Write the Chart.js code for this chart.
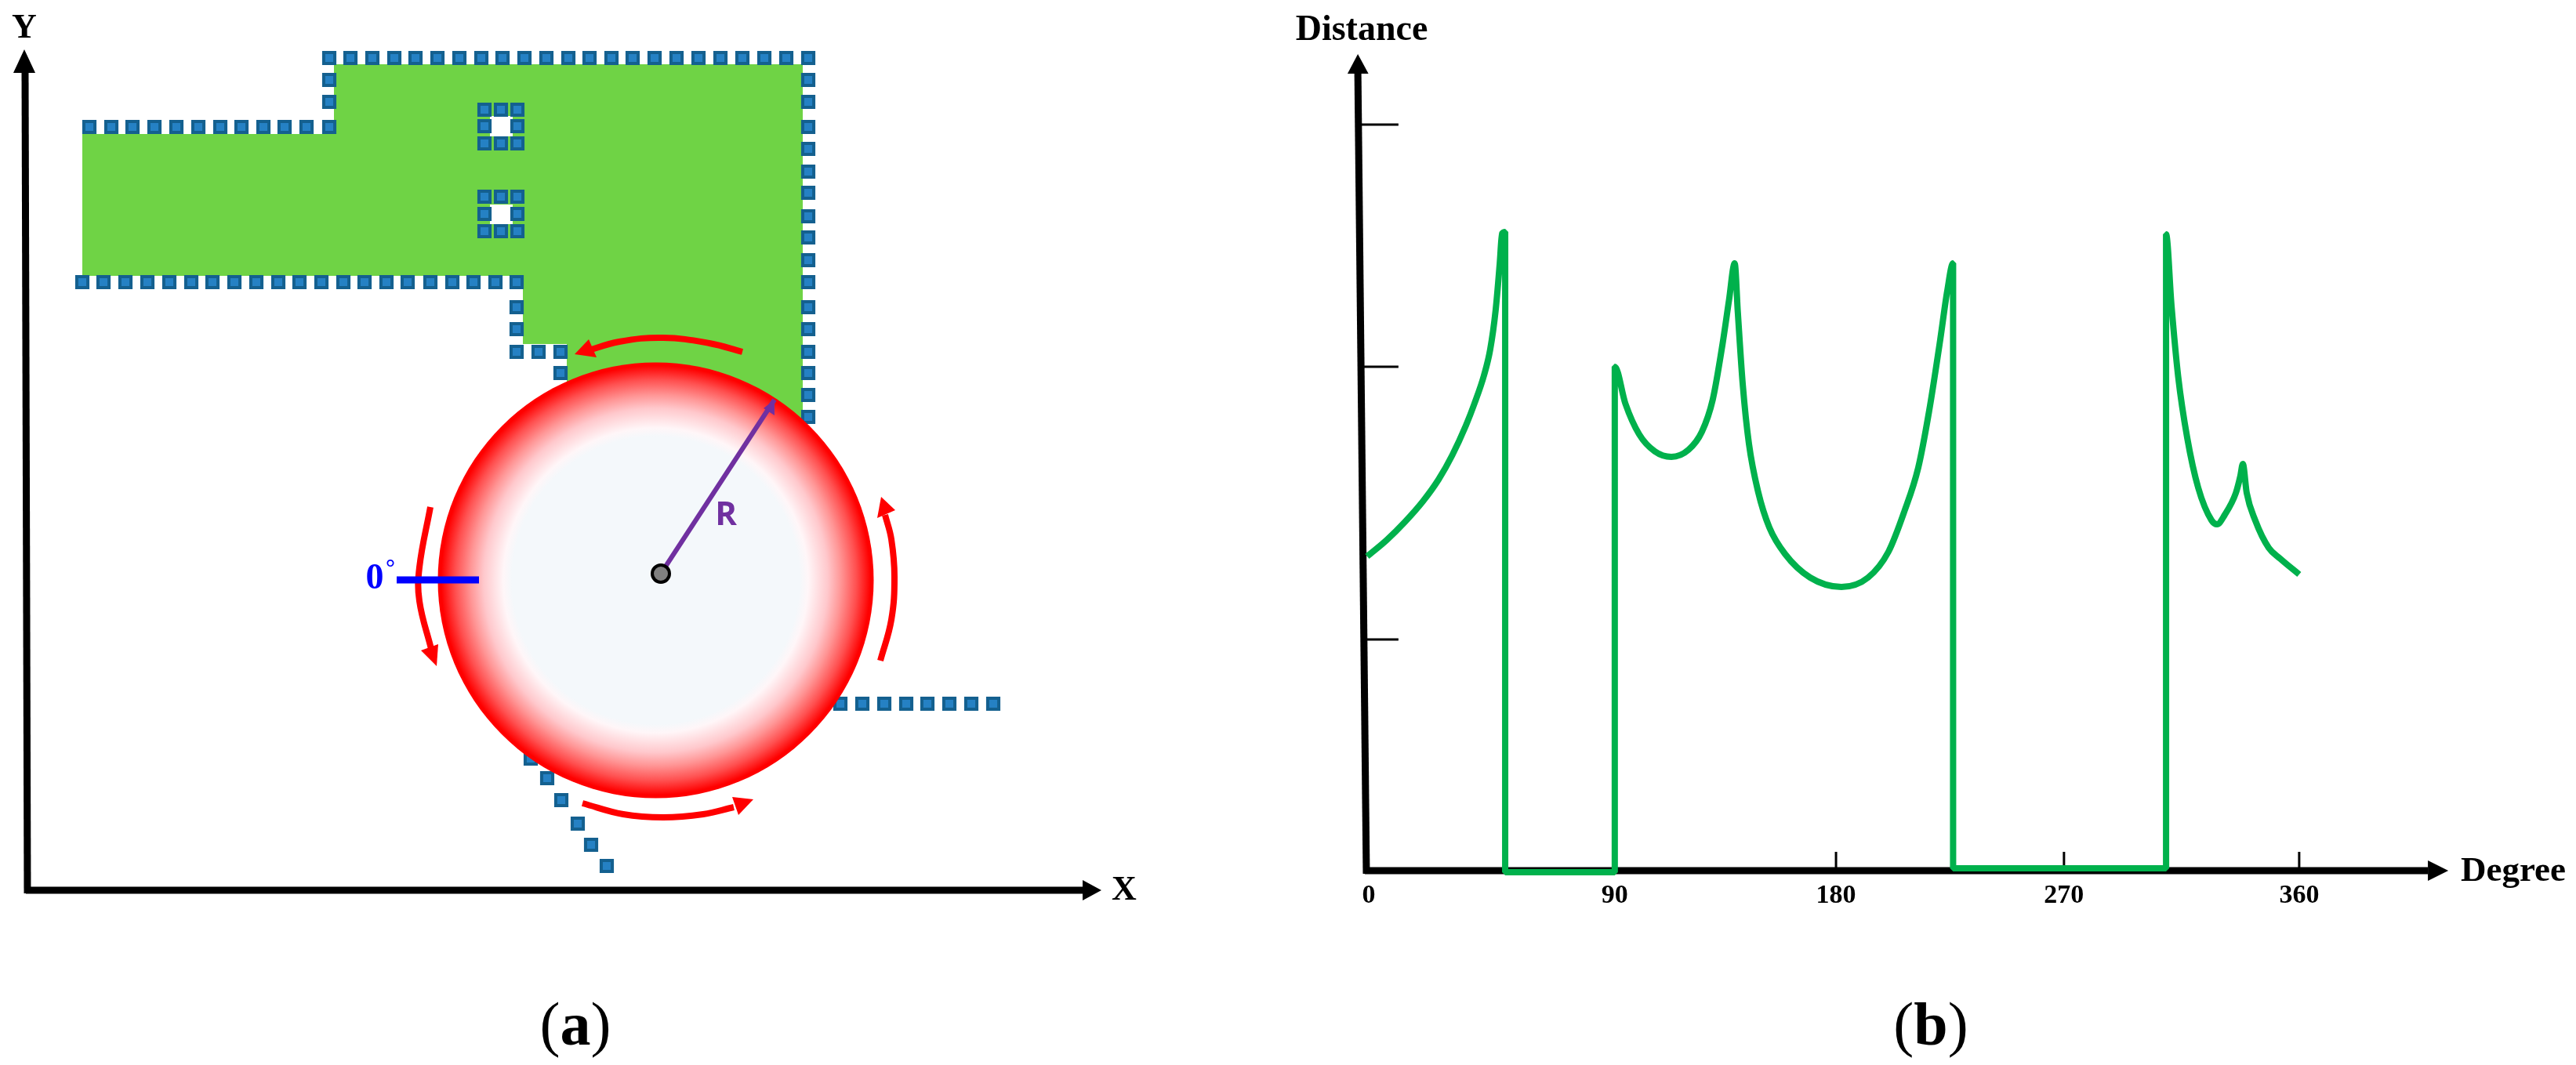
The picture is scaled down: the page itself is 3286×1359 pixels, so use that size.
<!DOCTYPE html>
<html>
<head>
<meta charset="utf-8">
<script src="https://cdn.jsdelivr.net/npm/chart.js@4"></script>
<style>
  html, body { margin: 0; padding: 0; background: #fff; }
  body { position: relative; width: 3286px; height: 1359px; overflow: hidden; }
  canvas { position: absolute; top: 0; }
  #chartA { left: 0; }
  #chartB { left: 1650px; }
  .lbl { position: absolute; transform: translate(-50%, -50%); font-family: "Liberation Serif", serif; font-weight: bold; color: #000; white-space: nowrap; line-height: 1; }
  .lbl .thin { font-weight: normal; }
</style>
</head>
<body>
<canvas id="chartA" width="1640" height="1359"></canvas>
<canvas id="chartB" width="1636" height="1359"></canvas>

<div class="lbl" style="left:31px;top:34px;font-size:44px">Y</div>
<div class="lbl" style="left:1434px;top:1134px;font-size:44px">X</div>
<div class="lbl" style="left:478px;top:736px;font-size:46px;color:#0000ff">0</div>
<div class="lbl" style="left:498px;top:724px;font-size:30px;color:#0000ff">°</div>
<div class="lbl" style="left:926px;top:654px;font-size:42px;color:#7030a0;font-family:'Open Sans',sans-serif">R</div>
<div class="lbl" style="left:734px;top:1307px;font-size:78px"><span class="thin">(</span>a<span class="thin">)</span></div>
<div class="lbl" style="left:1737px;top:36px;font-size:46px">Distance</div>
<div class="lbl" style="left:3206px;top:1109px;font-size:45px">Degree</div>
<div class="lbl" style="left:2463px;top:1307px;font-size:78px"><span class="thin">(</span>b<span class="thin">)</span></div>

<script>
// panel (a): map units, origin where the X and Y axes cross
const roomOutline = [[72, 965], [393, 965], [393, 1054], [991, 1054], [991, 536], [690, 536], [690, 697], [634, 697], [634, 784], [72, 784]];
const holeUpper = [[592, 988], [621, 988], [621, 962], [592, 962]];
const holeLower = [[592, 875], [621, 875], [621, 850], [592, 850]];

const scanTopX = [387, 414, 442, 470, 497, 525, 553, 581, 608, 636, 664, 692, 719, 747, 774, 802, 830, 858, 886, 914, 942, 970, 998];
const scanTopY = 1062;
const scanRightX = 998;
const scanRightY = [1034, 1006, 974, 946, 917, 890, 860, 833, 804, 776, 744, 716, 687, 660, 632, 604];
const scanStepX = [81, 109, 136, 164, 192, 220, 248, 275, 303, 330, 358, 387];
const scanStepY = 974;
const scanStepUp = [[387, 1034], [387, 1006]];
const scanBottomX = [72, 99, 127, 155, 183, 211, 238, 266, 294, 322, 349, 377, 405, 432, 460, 487, 516, 544, 571, 599, 626];
const scanBottomY = 776;
const scanNotch = [[626, 744], [626, 716], [626, 687], [654, 687], [682, 687], [682, 660]];
const scanHoleX = [585, 606, 627];
const scanHoleUpperY = [996, 975, 953];
const scanHoleLowerY = [885, 863, 841];
const scanFarX = [1039, 1067, 1095, 1123, 1150, 1178, 1206, 1234];
const scanFarY = 238;
const scanDiagonal = [[644, 168], [665, 143], [683, 115], [704, 85], [721, 58], [741, 31]];

const sensorCentre = [[810, 404]];
const footprintCentre = [[803.5, 395.5]];
const radiusLine = [[810, 404], [955, 626]];
const radiusHead = [[955, 626], [941, 615], [955, 606]];
const zeroLine = [[473, 396], [578, 396]];

const arcTop = [[914, 687], [872, 698], [813, 705], [757, 700], [712, 687]];
const arcTopHead = [[700, 684], [718, 703], [728, 680]];
const arcLeft = [[516, 489], [502, 412], [502, 369], [517, 308]];
const arcLeftHead = [[524, 286], [504, 306], [526, 314]];
const arcRight = [[1090, 293], [1104, 345], [1108, 400], [1104, 448], [1096, 479]];
const arcRightHead = [[1091, 502], [1086, 475], [1109, 485]];
const arcBottom = [[710, 111], [762, 97], [813, 93], [864, 97], [903, 106]];
const arcBottomHead = [[928, 116], [901, 119], [909, 96]];

const axisAX = [[0, 0], [1348, 0]];
const axisAXHead = [[1372, 0], [1348, 13], [1348, -13]];
const axisAY = [[2, -4], [-1, 1043]];
const axisAYHead = [[-2, 1073], [-16, 1043], [12, 1043]];

// panel (b): degree against distance
const degrees = [-0.6, 7.0, 14.0, 20.9, 27.0, 32.3, 37.6, 40.9, 44.6, 47.0, 49.1, 50.7, 51.6, 52.8, 52.8, 95.2,
  95.2, 99.3, 104.6, 110.7, 117.1, 123.7, 128.9, 133.1, 136.9, 139.4, 141.6, 142.8, 144.7, 147.1, 150.7, 155.0,
  161.1, 170.8, 182.9, 193.2, 201.1, 207.2, 212.6, 216.8, 221.1, 223.8, 226.1, 226.1, 308.5, 308.5, 310.6, 313.2,
  316.7, 320.9, 326.1, 328.2, 331.2, 335.5, 337.2, 338.2, 339.7, 343.0, 348.2, 352.7, 360.0];
const distances = [4.01, 4.22, 4.45, 4.71, 4.99, 5.3, 5.68, 5.96, 6.32, 6.65, 7.15, 7.75, 8.13, 8.15, -0.02, -0.02,
  6.43, 5.96, 5.57, 5.35, 5.28, 5.37, 5.6, 6.01, 6.72, 7.28, 7.75, 7.13, 6.21, 5.45, 4.83, 4.38,
  4.04, 3.74, 3.62, 3.74, 4.07, 4.58, 5.14, 5.86, 6.77, 7.39, 7.75, 0.03, 0.03, 8.12, 7.21, 6.3,
  5.52, 4.89, 4.47, 4.42, 4.54, 4.82, 5.03, 5.19, 4.82, 4.47, 4.12, 3.98, 3.78];

// the drawn axis is uneven, the labelled ticks do not sit at equal steps
const tickLabels = ['0', '90', '180', '270', '360'];
const tickPositions = [0, 95.2, 180.8, 269, 360];
const xTickMarks = [95.2, 180.8, 269, 360];
const xTickHeight = 0.24;
const yTickMarks = [[-3.3, 9.52], [-2.4, 6.43], [-1.5, 2.95]];
const yTickEnd = 11.5;

const axisBX = [[-1.5, 0], [409.8, 0]];
const axisBXHead = [[417.7, 0], [409.8, 0.13], [409.8, -0.13]];
const axisBY = [[-0.9, -0.04], [-4.2, 10.17]];
const axisBYHead = [[-4.2, 10.42], [-8.2, 10.17], [-0.1, 10.17]];

const toPoints = (pairs) => pairs.map((p) => ({ x: p[0], y: p[1] }));

function stroke(pairs, color, width) {
  return { data: toPoints(pairs), borderColor: color, borderWidth: width, pointRadius: 0, fill: false, clip: false, borderCapStyle: 'butt', borderJoinStyle: 'round' };
}

function arc(pairs) {
  return { ...stroke(pairs, '#ff0000', 8), tension: 0.4 };
}

function shape(pairs, color) {
  return { data: toPoints(pairs), borderColor: color, borderWidth: 0, backgroundColor: color, pointRadius: 0, fill: 'shape', clip: false };
}

function squares(pairs) {
  return {
    data: toPoints(pairs),
    showLine: false,
    pointStyle: 'rect',
    pointRadius: 10,
    pointBorderWidth: 4,
    pointBackgroundColor: '#2581c4',
    pointBorderColor: '#14608f',
    clip: false,
  };
}

const scanPairs = [
  ...scanTopX.map((x) => [x, scanTopY]),
  ...scanRightY.map((y) => [scanRightX, y]),
  ...scanStepX.map((x) => [x, scanStepY]),
  ...scanStepUp,
  ...scanBottomX.map((x) => [x, scanBottomY]),
  ...scanNotch,
  ...scanFarX.map((x) => [x, scanFarY]),
  ...scanDiagonal,
];
[scanHoleUpperY, scanHoleLowerY].forEach((ys) => {
  ys.forEach((y, r) => {
    scanHoleX.forEach((x, c) => {
      if (r !== 1 || c !== 1) scanPairs.push([x, y]);
    });
  });
});

const footprint = {
  data: toPoints(footprintCentre),
  showLine: false,
  pointRadius: 278,
  pointBorderWidth: 0,
  clip: false,
  pointBackgroundColor: (ctx) => {
    const { x, y } = ctx.chart.scales;
    const px = x.getPixelForValue(footprintCentre[0][0]);
    const py = y.getPixelForValue(footprintCentre[0][1]);
    // scales have no size yet on the first pass
    if (!Number.isFinite(px) || !Number.isFinite(py)) return '#ff0000';
    const g = ctx.chart.ctx.createRadialGradient(px, py, 0, px, py, 278);
    g.addColorStop(0, '#f4f8fb');
    g.addColorStop(0.66, '#f4f8fb');
    g.addColorStop(0.7, '#fff6f8');
    g.addColorStop(0.79, '#ffc8cc');
    g.addColorStop(0.85, '#ff9696');
    g.addColorStop(0.92, '#ff5050');
    g.addColorStop(0.985, '#ff0000');
    g.addColorStop(1, '#ff0000');
    return g;
  },
};

const sensorDot = {
  data: toPoints(sensorCentre),
  showLine: false,
  pointRadius: 11,
  pointBorderWidth: 4,
  pointBackgroundColor: '#808080',
  pointBorderColor: '#000',
  clip: false,
};

// bottom layer first
const layersA = [
  shape(roomOutline, '#6fd345'),
  shape(holeUpper, '#fff'),
  shape(holeLower, '#fff'),
  squares(scanPairs),
  footprint,
  arc(arcTop), shape(arcTopHead, '#ff0000'),
  arc(arcLeft), shape(arcLeftHead, '#ff0000'),
  arc(arcRight), shape(arcRightHead, '#ff0000'),
  arc(arcBottom), shape(arcBottomHead, '#ff0000'),
  stroke(zeroLine, '#0000ff', 9),
  stroke(radiusLine, '#7030a0', 6), shape(radiusHead, '#7030a0'),
  sensorDot,
  stroke(axisAX, '#000', 9), shape(axisAXHead, '#000'),
  stroke(axisAY, '#000', 9), shape(axisAYHead, '#000'),
];
layersA.forEach((d, i) => { d.order = -i; });

new Chart(document.getElementById('chartA'), {
  type: 'line',
  data: { datasets: layersA },
  options: {
    responsive: false,
    animation: false,
    devicePixelRatio: 1,
    layout: { padding: 0, autoPadding: false },
    plugins: { legend: { display: false }, tooltip: { enabled: false }, filler: { drawTime: 'beforeDatasetDraw' } },
    scales: {
      x: { type: 'linear', display: false, min: -33, max: 1607 },
      y: { type: 'linear', display: false, min: -223, max: 1136 },
    },
  },
});

const curve = stroke(degrees.map((d, i) => [d, distances[i]]), '#00b14c', 8);
curve.borderJoinStyle = 'bevel';
curve.cubicInterpolationMode = 'monotone';

const layersB = [
  ...xTickMarks.map((x) => stroke([[x, 0], [x, xTickHeight]], '#000', 3)),
  ...yTickMarks.map((t) => stroke([t, [yTickEnd, t[1]]], '#000', 3)),
  stroke(axisBX, '#000', 9), shape(axisBXHead, '#000'),
  stroke(axisBY, '#000', 9), shape(axisBYHead, '#000'),
  curve,
];
layersB.forEach((d, i) => { d.order = -i; });

new Chart(document.getElementById('chartB'), {
  type: 'line',
  data: { datasets: layersB },
  options: {
    responsive: false,
    animation: false,
    devicePixelRatio: 1,
    // y runs a little below zero so the fill of the arrow head is not cut off
    layout: { padding: { left: 56.4, right: 155.3, top: 69, bottom: 218 }, autoPadding: false },
    plugins: { legend: { display: false }, tooltip: { enabled: false }, filler: { drawTime: 'beforeDatasetDraw' } },
    scales: {
      x: {
        type: 'linear',
        position: { y: 0 },
        min: -12,
        max: 420,
        border: { display: false },
        grid: { display: false, drawTicks: false },
        afterBuildTicks: (scale) => { scale.ticks = tickPositions.map((value) => ({ value })); },
        ticks: {
          autoSkip: false,
          maxRotation: 0,
          padding: 12,
          color: '#000',
          font: { family: '"Liberation Serif", serif', size: 34, weight: 'bold' },
          callback: (value, index) => tickLabels[index],
        },
      },
      y: { type: 'linear', display: false, min: -0.3, max: 10.42 },
    },
  },
});
</script>
</body>
</html>
